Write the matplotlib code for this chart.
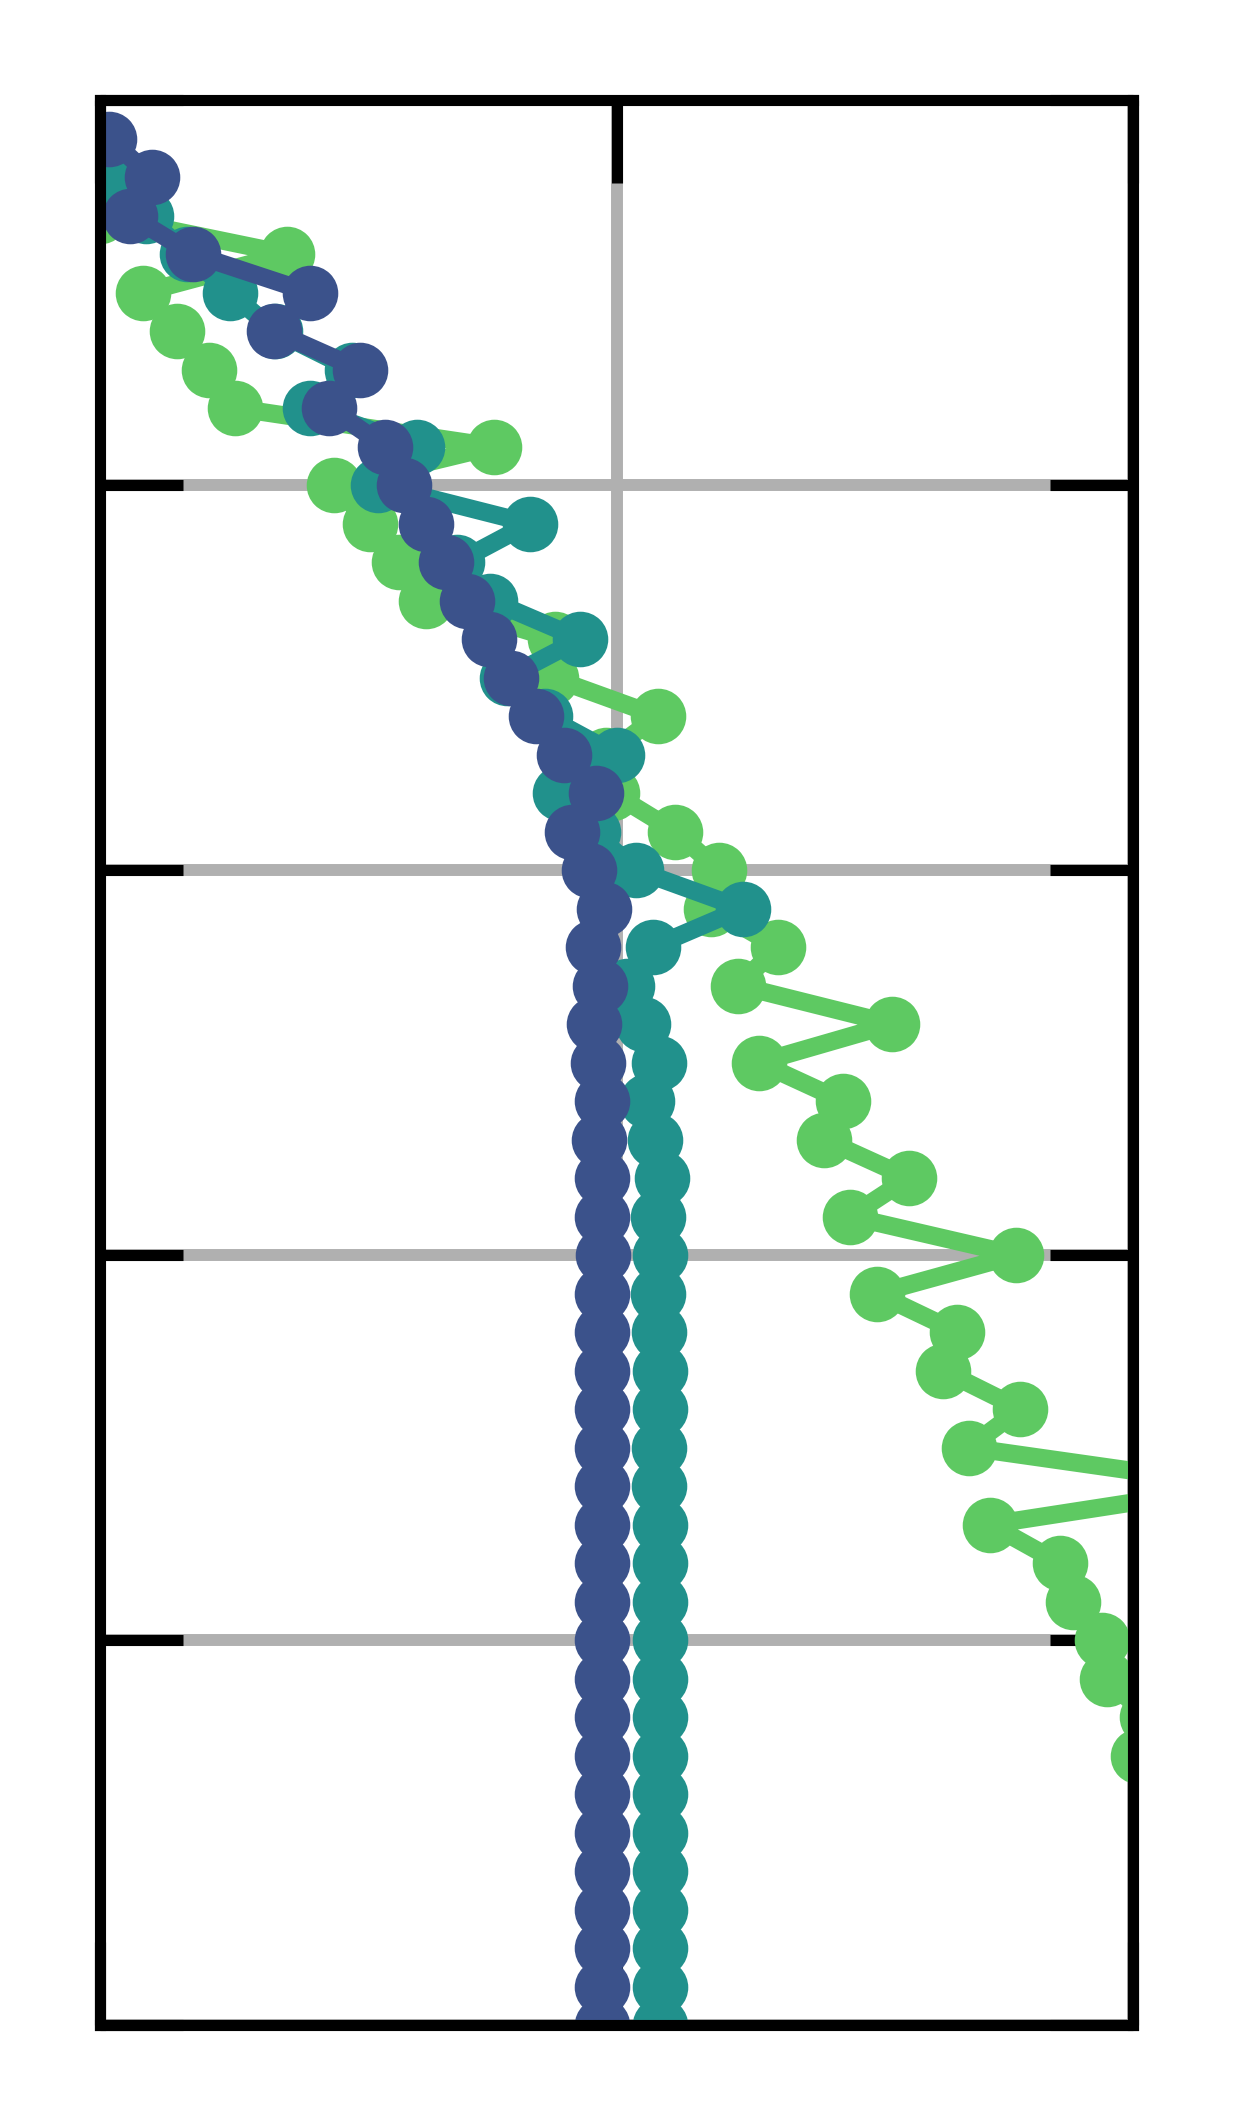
import matplotlib
matplotlib.use("Agg")
import matplotlib.pyplot as plt
import numpy as np

# depth index (y) and three series (x values)
depth = list(range(1, 51))

series_green = [0.0, 0.005, 0.0, 0.181, 0.042, 0.075, 0.106, 0.131, 0.381, 0.227,
                0.261, 0.289, 0.316, 0.44, 0.437, 0.540, 0.49, 0.496, 0.557, 0.599,
                0.591, 0.656, 0.618, 0.767, 0.638, 0.719, 0.701, 0.783, 0.726, 0.887,
                0.752, 0.830, 0.816, 0.891, 0.841, 1.103, 0.862, 0.929, 0.942, 0.970,
                0.975, 1.014, 1.005, 1.06, 1.08, 1.11, 1.13, 1.16, 1.18, 1.21]

series_teal = [0.0, 0.005, 0.045, 0.084, 0.126, 0.169, 0.244, 0.203, 0.307, 0.269,
               0.416, 0.346, 0.378, 0.465, 0.394, 0.431, 0.500, 0.445, 0.477, 0.519,
               0.622, 0.535, 0.510, 0.526, 0.541, 0.530, 0.537, 0.544, 0.540, 0.542,
               0.540, 0.541, 0.542, 0.542, 0.541, 0.541, 0.542, 0.542, 0.542, 0.542,
               0.542, 0.542, 0.542, 0.542, 0.542, 0.542, 0.542, 0.542, 0.542, 0.542]

series_blue = [0.009, 0.050, 0.029, 0.090, 0.203, 0.168, 0.252, 0.222, 0.276, 0.294,
               0.316, 0.335, 0.355, 0.377, 0.398, 0.422, 0.449, 0.480, 0.457, 0.473,
               0.488, 0.477, 0.484, 0.478, 0.482, 0.486, 0.483, 0.486, 0.486, 0.487,
               0.486, 0.486, 0.486, 0.486, 0.486, 0.486, 0.486, 0.486, 0.486, 0.486,
               0.486, 0.486, 0.486, 0.486, 0.486, 0.486, 0.486, 0.486, 0.486, 0.486]

x_ticks = [0.0, 0.5, 1.0]
y_ticks = [0, 10, 20, 30, 40, 50]

colors = {"green": "#5ec962", "teal": "#21918c", "blue": "#3b528b"}

W, H, DPI = 1233, 2125, 200
fig = plt.figure(figsize=(W / DPI, H / DPI), dpi=DPI)
ax = fig.add_axes([100 / W, 1 - 2025 / H, 1033 / W, 1925 / H])

for vals, key in [(series_green, "green"), (series_teal, "teal"), (series_blue, "blue")]:
    ax.plot(vals, depth, color=colors[key], linewidth=6.5, marker="o",
            markersize=20, markeredgewidth=0, solid_capstyle="butt")

ax.set_xlim(0, 1)
ax.set_ylim(50, 0)
ax.set_xticks(x_ticks)
ax.set_yticks(y_ticks)
ax.set_xticklabels([])
ax.set_yticklabels([])
ax.grid(True, color="#b0b0b0", linewidth=4.3)
ax.set_axisbelow(True)
ax.tick_params(direction="in", length=30, width=4, top=True, right=True,
               bottom=True, left=True, color="black")
for sp in ax.spines.values():
    sp.set_linewidth(4)
    sp.set_color("black")
    sp.set_zorder(5)

fig.savefig("out.png", dpi=DPI, facecolor="white")
